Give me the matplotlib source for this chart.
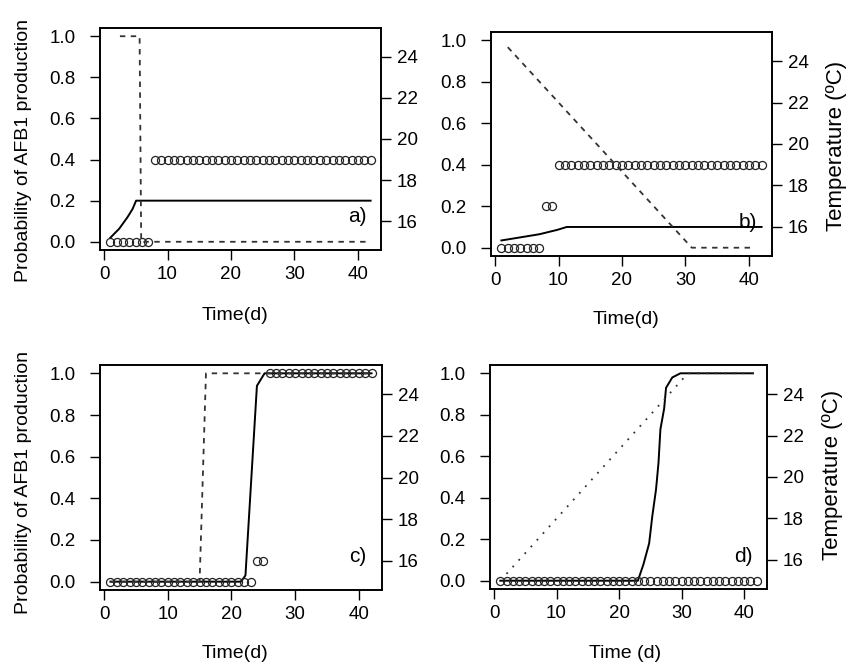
import matplotlib
matplotlib.use("Agg")
import matplotlib.pyplot as plt
import numpy as np

plt.rcParams['font.family'] = ['Liberation Sans', 'DejaVu Sans']

W, H = 847, 669

# observed daily AFB1 production (circles)
days = np.arange(1, 43)
obs_a = [0.0] * 7 + [0.4] * 35
obs_b = [0.0] * 7 + [0.2] * 2 + [0.4] * 33
obs_c = [0.0] * 23 + [0.1] * 2 + [1.0] * 17
obs_d = [0.0] * 42

# model probability (solid)
mod_a_x = [1, 2.4, 3.7, 4.5, 5.05, 42]
mod_a_y = [0.02, 0.064, 0.12, 0.16, 0.2, 0.2]
mod_b_x = [1, 4, 7, 9.8, 11.3, 42]
mod_b_y = [0.035, 0.05, 0.065, 0.086, 0.10, 0.10]
mod_c_x = [1, 21.5, 22.2, 24.0, 25.2, 42]
mod_c_y = [0.0, 0.0, 0.03, 0.94, 1.0, 1.0]
mod_d_x = [1, 23.0, 23.9, 24.8, 25.3, 25.9, 26.3, 26.6, 27.2, 27.5, 28.5, 29.8, 41.4]
mod_d_y = [0.0, 0.0, 0.08, 0.18, 0.31, 0.44, 0.57, 0.73, 0.83, 0.93, 0.98, 1.0, 1.0]

# temperature regime (dashed / dotted, right axis)
temp_a_x = [2.5, 5.6, 5.85, 42]
temp_a_y = [25, 25, 15, 15]
temp_b_x = [2, 31, 41]
temp_b_y = [24.67, 15, 15]
temp_c_x = [1, 15, 16, 42]
temp_c_y = [15, 15, 25, 25]
temp_d_x = [2, 31, 42]
temp_d_y = [15.33, 25, 25]

prob_ticks = [0.0, 0.2, 0.4, 0.6, 0.8, 1.0]
temp_ticks = [16, 18, 20, 22, 24]
time_ticks = [0, 10, 20, 30, 40]

panels = [
    # letter, box (left, top, right, bottom in px), obs, model, temp, temp style
    ('a)', (100, 28, 381, 250), obs_a, (mod_a_x, mod_a_y), (temp_a_x, temp_a_y), (0, (3, 3))),
    ('b)', (491, 32, 772, 256), obs_b, (mod_b_x, mod_b_y), (temp_b_x, temp_b_y), (0, (3, 3))),
    ('c)', (100, 365, 382, 590), obs_c, (mod_c_x, mod_c_y), (temp_c_x, temp_c_y), (0, (3, 3))),
    ('d)', (490, 365, 767, 589), obs_d, (mod_d_x, mod_d_y), (temp_d_x, temp_d_y), (0, (1, 4))),
]

fig = plt.figure(figsize=(W / 100, H / 100), dpi=100)

def style(ax):
    ax.tick_params(direction='out', length=7.5, width=1, labelsize=13.5, colors='black')
    for s in ax.spines.values():
        s.set_linewidth(1.2)

for letter, (l, t, r, b), obs, mod, temp, ls in panels:
    ax = fig.add_axes([l / W, 1 - b / H, (r - l) / W, (b - t) / H])
    ax.plot(mod[0], mod[1], color='black', lw=1.4, zorder=3)
    ax.plot(days, obs, 'o', ms=5.8, mfc='none', mec='#222222', mew=0.9, zorder=4)
    ax.set_xlim(-0.64, 43.64)
    ax.set_ylim(-0.04, 1.04)
    ax.set_xticks(time_ticks)
    ax.set_yticks(prob_ticks)
    ax.set_yticklabels(['%.1f' % v for v in prob_ticks])
    style(ax)
    ax.tick_params(axis='y', pad=10)
    ax.tick_params(axis='x', pad=4)

    ax2 = ax.twinx()
    ax2.plot(temp[0], temp[1], color='#333333', lw=1.3, linestyle=ls, zorder=2)
    ax2.set_ylim(14.6, 25.4)
    ax2.set_yticks(temp_ticks)
    style(ax2)
    ax2.tick_params(axis='y', pad=4)

    fig.text((r - 24) / W, 1 - (b - 33) / H, letter, fontsize=15, ha='center', va='center')

# axis labels
fig.text(23.5 / W, 1 - 150 / H, 'Probability of AFB1 production', rotation=90,
         fontsize=14, ha='center', va='center')
fig.text(23.5 / W, 1 - 483 / H, 'Probability of AFB1 production', rotation=90,
         fontsize=14, ha='center', va='center')
fig.text(836 / W, 1 - 146 / H, 'Temperature (ºC)', rotation=90,
         fontsize=16, ha='center', va='center')
fig.text(832 / W, 1 - 475 / H, 'Temperature (ºC)', rotation=90,
         fontsize=16, ha='center', va='center')
fig.text(235 / W, 1 - 315 / H, 'Time(d)', fontsize=14, ha='center', va='center')
fig.text(626 / W, 1 - 320 / H, 'Time(d)', fontsize=14, ha='center', va='center')
fig.text(235 / W, 1 - 654 / H, 'Time(d)', fontsize=14, ha='center', va='center')
fig.text(625 / W, 1 - 653 / H, 'Time (d)', fontsize=14, ha='center', va='center')

fig.savefig('out.png', dpi=100)
